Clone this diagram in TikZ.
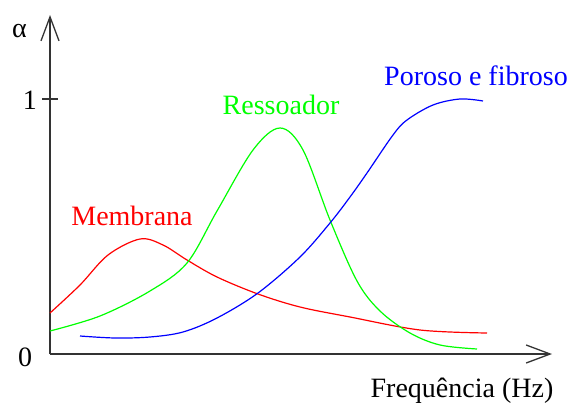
\documentclass[tikz,border=0pt]{standalone}
\usepackage{fontspec}
\setmainfont{Liberation Serif}
\usetikzlibrary{arrows.meta}

\begin{document}
\begin{tikzpicture}[x=1pt,y=-1pt]
    \tikzstyle{every node}+=[inner sep=0pt, font=\fontsize{28}{30}\selectfont]
    \tikzset{axis/.style={draw=black!80, line width=1.3pt, -{Straight Barb[length=24pt,width=18pt,line width=1.3pt]}},
      curve/.style={line width=1.2pt, smooth, tension=0.55}}
    \useasboundingbox (0,0) rectangle (571,404);
    % axes
    \coordinate (o) at (50,354);
    \coordinate (ytop) at (50,15);
    \coordinate (xend) at (552,354);
    \draw [axis] (o) -- (ytop);
    \draw [axis] (o) -- (xend);
    \draw [black!80, line width=1.3pt] (42,99) -- (58,99);
    \node (alpha) [anchor=base west] at (12,38) {α};
    \node (one) [anchor=base] at (30,110) {1};
    \node (zero) [anchor=base] at (25,366) {0};
    \node (freq) [anchor=base] at (462,397) {Frequência (Hz)};
    % curves
    \draw [red, curve] plot coordinates {(50,313) (80,285) (108,255) (140,239) (163,245) (187,260) (217,277) (258,294) (300,307) (350,317) (420,330) (487,333)};
    \draw [green, curve] plot coordinates {(50,331) (100,316) (150,291) (187,263) (217,211) (253,150) (280,128) (303,150) (330,220) (357,281) (380,311) (410,333) (440,345) (477,349)};
    \draw [blue, curve] plot coordinates {(80,336) (115,338) (150,337) (183,332) (217,318) (258,293) (300,257) (330,223) (350,197) (367,173) (393,135) (407,120) (433,105) (460,99) (483,101)};
    % labels
    \node (membrana) [red, anchor=base] at (132,225) {Membrana};
    \node (ressoador) [green, anchor=base] at (281,115) {Ressoador};
    \node (poroso) [blue, anchor=base] at (476,85) {Poroso e fibroso};
\end{tikzpicture}
\end{document}
